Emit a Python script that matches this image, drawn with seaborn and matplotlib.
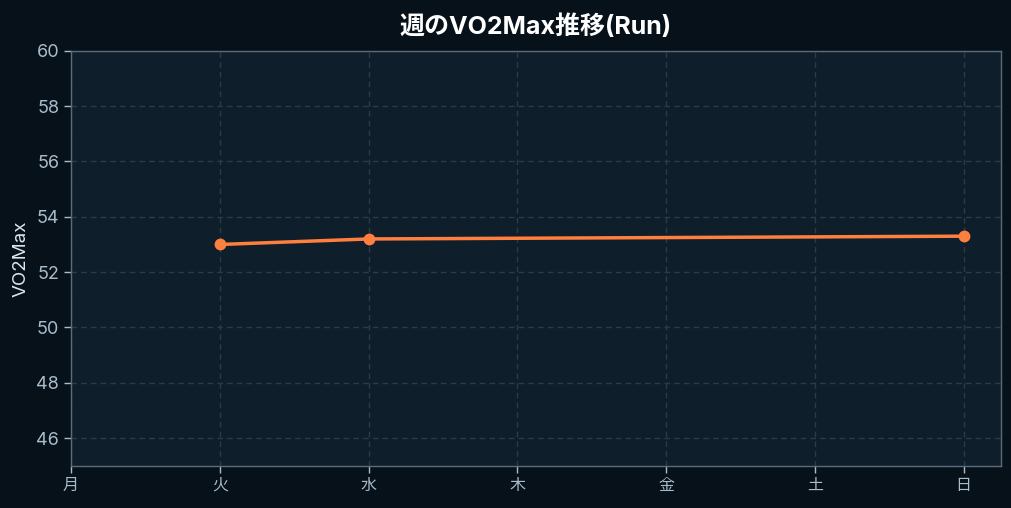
import matplotlib
matplotlib.use("Agg")
import matplotlib.pyplot as plt
import seaborn as sns
import pandas as pd

days = ["月", "火", "水", "木", "金", "土", "日"]
measured_days = ["火", "水", "日"]
vo2max = [53.0, 53.2, 53.3]
yticks = [46, 48, 50, 52, 54, 56, 58, 60]

sns.set_theme(style="dark")
plt.rcParams['font.family'] = ['Inter', 'Noto Sans CJK JP', 'DejaVu Sans']

FIG_BG = "#07111a"
AX_BG = "#0f1e2b"
SPINE = "#5b6b78"
TICK = "#a9bccb"
GRID = "#2b3b48"
LINE = "#ff7f3f"

df = pd.DataFrame({"x": [days.index(d) for d in measured_days], "v": vo2max})

fig, ax = plt.subplots(figsize=(10.12, 5.08), dpi=100)
fig.patch.set_facecolor(FIG_BG)
ax.set_facecolor(AX_BG)

sns.lineplot(data=df, x="x", y="v", ax=ax, color=LINE, linewidth=2.5,
             marker="o", markersize=8.5, markeredgewidth=0, zorder=3)

ax.set_xlim(0, 6.25)
ax.set_ylim(45, 60)
ax.set_xticks(range(len(days)))
ax.set_xticklabels(days)
ax.set_yticks(yticks)
ax.grid(True, color=GRID, linestyle=(0, (4, 3)), linewidth=1)
ax.tick_params(colors=TICK, labelsize=13, length=5, width=1, direction="out",
               bottom=True, left=True)
for lab in ax.get_xticklabels():
    lab.set_fontsize(11.5)
for s in ax.spines.values():
    s.set_color(SPINE)
    s.set_linewidth(1)
    s.set_visible(True)
ax.set_xlabel("")
ax.set_ylabel("VO2Max", color="#dde6ee", fontsize=13.5, labelpad=5)
ax.set_title("週のVO2Max推移(Run)", color="#ffffff", fontsize=18,
             fontweight="bold", pad=12)

fig.subplots_adjust(left=0.0702, right=0.989, top=0.9, bottom=0.083)
fig.savefig("out.png", dpi=100, facecolor=FIG_BG)
